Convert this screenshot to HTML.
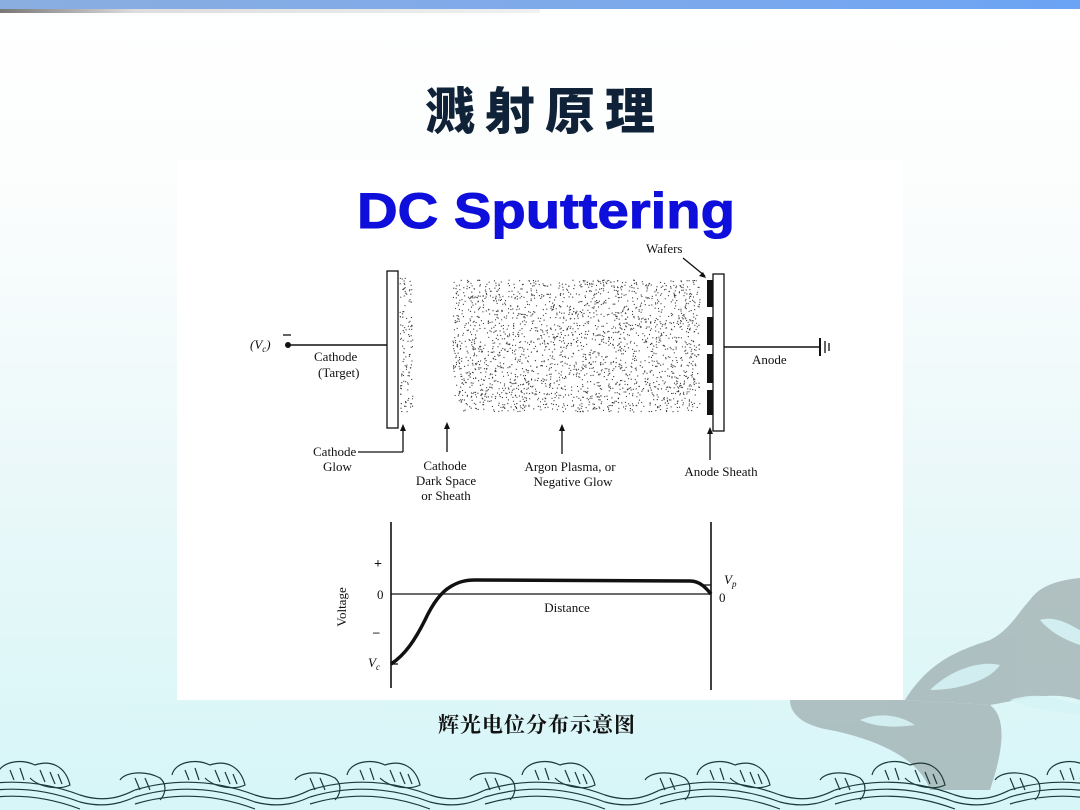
<!DOCTYPE html>
<html><head><meta charset="utf-8">
<style>
html,body{margin:0;padding:0}
body{width:1080px;height:810px;overflow:hidden;position:relative;
background:linear-gradient(to bottom,#ffffff 0%,#fbfdfd 25%,#eaf8f9 60%,#d6f6f8 100%);
font-family:"Liberation Serif",serif}
#top{position:absolute;left:0;top:0;width:1080px;height:9px;background:linear-gradient(to right,#8aaee0,#7aa8ee 70%,#6aa4f4)}
#top2{position:absolute;left:0;top:9px;width:540px;height:4px;background:linear-gradient(to right,#777,#ddd 25%,#f0f0f0)}
#title{position:absolute;left:0;width:1080px;top:72px;text-align:center;font:900 50px "Noto Sans CJK SC",sans-serif;color:#0f2238;letter-spacing:10px;text-indent:10px}
#cap{position:absolute;left:0;width:1074px;top:709px;text-align:center;font:bold 21px "Noto Serif CJK SC","Noto Sans CJK SC",serif;color:#111;letter-spacing:1px}
svg{position:absolute;left:0;top:0}
</style></head><body>
<div id="top"></div><div id="top2"></div>
<svg width="1080" height="810" id="bg">
 <g fill="#9aa8aa" opacity="0.7">
  <path d="M905 700 C930 660 960 650 990 640 C1010 630 1020 610 1030 600 C1040 585 1060 580 1080 578 L1080 700 C1050 690 1020 700 990 705 Z"/>
  <path d="M790 700 C830 690 870 700 905 700 L990 705 C1010 720 1000 760 990 790 L930 790 C920 760 880 740 830 730 C800 725 790 712 790 700Z"/>
 </g>
 <g fill="#d6f3f5" opacity="0.9">
  <path d="M930 690 C950 670 980 660 1000 665 C990 680 960 690 930 690Z"/>
  <path d="M1010 700 C1040 690 1060 700 1080 705 L1080 715 C1050 712 1030 708 1010 700Z"/>
  <path d="M860 720 C880 712 900 715 915 725 C895 728 875 727 860 720Z"/>
  <path d="M1040 620 C1055 615 1070 625 1080 630 L1080 645 C1065 640 1050 632 1040 620Z"/>
 </g>
 <g fill="none" stroke="#1d3a3a" stroke-width="1.2" id="waves"></g>
</svg>
<div id="title">溅射原理</div>
<svg width="1080" height="810">
 <rect x="177" y="160" width="726" height="540" fill="#fff"/>
 <text x="546" y="228" text-anchor="middle" font-family="Liberation Sans,sans-serif" font-weight="bold" font-size="50" fill="#0f0fdc" textLength="378" lengthAdjust="spacingAndGlyphs" stroke="#0f0fdc" stroke-width="1">DC Sputtering</text>
 <g id="dots" fill="#333"></g>
 <g stroke="#111" fill="none" stroke-width="1.3">
  <rect x="387" y="271" width="11" height="157" fill="#fff"/>
  <rect x="713" y="274" width="11" height="157" fill="#fff"/>
  <line x1="288" y1="345" x2="387" y2="345" stroke-width="1.6"/>
  <line x1="724" y1="347" x2="820" y2="347" stroke-width="1.6"/>
  <line x1="820" y1="338" x2="820" y2="356" stroke-width="2"/>
  <line x1="825" y1="341" x2="825" y2="353"/>
  <line x1="829" y1="343" x2="829" y2="351"/>
  <line x1="683" y1="258" x2="705" y2="276"/>
  <line x1="403" y1="452" x2="403" y2="428"/><line x1="358" y1="452" x2="403" y2="452"/>
  <line x1="447" y1="452" x2="447" y2="425"/>
  <line x1="562" y1="454" x2="562" y2="427"/>
  <line x1="710" y1="460" x2="710" y2="430"/>
  <line x1="391" y1="522" x2="391" y2="688" stroke-width="1.6"/>
  <line x1="711" y1="522" x2="711" y2="690" stroke-width="1.6"/>
  <line x1="391" y1="594" x2="711" y2="594"/>
  <line x1="391" y1="664" x2="398" y2="664"/>
  <line x1="704" y1="585" x2="711" y2="585"/>
  <path d="M391 664 C405 655 415 640 425 620 C432 605 440 593 450 587 C458 582 465 580 475 580 L690 581 C700 581 706 588 711 594" stroke-width="3.5"/>
 </g>
 <g fill="#111">
  <rect x="707" y="280" width="6" height="27"/><rect x="707" y="317" width="6" height="28"/>
  <rect x="707" y="354" width="6" height="29"/><rect x="707" y="390" width="6" height="25"/>
  <circle cx="288" cy="345" r="3"/>
  <polygon points="706,278 699,276 703,272"/>
  <polygon points="403,424 400,431 406,431"/><polygon points="447,422 444,429 450,429"/>
  <polygon points="562,424 559,431 565,431"/><polygon points="710,427 707,434 713,434"/>
 </g>
 <g font-family="Liberation Serif,serif" font-size="13" fill="#111">
  <text x="250" y="349" font-style="italic">(V<tspan font-size="9" dy="3">c</tspan><tspan dy="-3">)</tspan></text>
  <line x1="283" y1="335" x2="291" y2="335" stroke="#111" stroke-width="1.3"/>
  <text x="314" y="361">Cathode</text><text x="318" y="377">(Target)</text>
  <text x="646" y="253">Wafers</text>
  <text x="752" y="364">Anode</text>
  <text x="313" y="456">Cathode</text><text x="323" y="471">Glow</text>
  <text x="445" y="470" text-anchor="middle">Cathode</text>
  <text x="446" y="485" text-anchor="middle">Dark Space</text>
  <text x="446" y="500" text-anchor="middle">or Sheath</text>
  <text x="570" y="471" text-anchor="middle">Argon Plasma, or</text>
  <text x="573" y="486" text-anchor="middle">Negative Glow</text>
  <text x="721" y="476" text-anchor="middle">Anode Sheath</text>
  <text x="567" y="612" text-anchor="middle">Distance</text>
  <text x="346" y="607" text-anchor="middle" transform="rotate(-90 346 607)">Voltage</text>
  <text x="374" y="568" font-weight="bold" font-size="14">+</text>
  <text x="377" y="599">0</text>
  <text x="373" y="636" font-weight="bold">–</text>
  <text x="368" y="667" font-style="italic">V<tspan font-size="9" dy="3">c</tspan></text>
  <text x="724" y="584" font-style="italic">V<tspan font-size="9" dy="3">p</tspan></text>
  <text x="719" y="602">0</text>
 </g>
</svg>
<div id="cap">辉光电位分布示意图</div>
<script>
var s=12345;function r(){s=(s*1103515245+12345)%2147483648;return s/2147483648;}
var g=document.getElementById('dots'),h='';
function fill(x0,y0,w,hh,n){for(var i=0;i<n;i++){h+='<circle cx="'+(x0+r()*w).toFixed(1)+'" cy="'+(y0+r()*hh).toFixed(1)+'" r="0.6"/>';}}
fill(453,280,247,132,2300);fill(400,278,13,134,120);
g.innerHTML=h;
var w=document.getElementById('waves'),p='';
for(var x=-40;x<1100;x+=175){
 p+='<path d="M'+x+' 790 C'+(x+40)+' 778 '+(x+80)+' 780 '+(x+120)+' 795 C'+(x+150)+' 805 '+(x+170)+' 792 '+(x+175)+' 790"/>';
 p+='<path d="M'+x+' 797 C'+(x+40)+' 785 '+(x+80)+' 787 '+(x+120)+' 802 C'+(x+150)+' 810 '+(x+170)+' 799 '+(x+175)+' 797"/>';
 p+='<path d="M'+x+' 804 C'+(x+40)+' 792 '+(x+80)+' 794 '+(x+120)+' 809"/>';
 p+='<path d="M'+(x+37)+' 775 C'+(x+40)+' 762 '+(x+60)+' 758 '+(x+75)+' 765 C'+(x+90)+' 760 '+(x+105)+' 765 '+(x+110)+' 785 C'+(x+100)+' 790 '+(x+80)+' 788 '+(x+70)+' 778 M'+(x+50)+' 770 l4 10 M'+(x+60)+' 768 l4 12 M'+(x+80)+' 770 l5 12 M'+(x+90)+' 772 l5 12 M'+(x+98)+' 774 l4 10"/>';
 p+='<path d="M'+(x+160)+' 780 C'+(x+165)+' 772 '+(x+185)+' 770 '+(x+200)+' 778 C'+(x+208)+' 785 '+(x+205)+' 795 '+(x+200)+' 800 M'+(x+175)+' 778 l5 12 M'+(x+185)+' 778 l5 12"/>';
}
w.innerHTML=p;
</script>
</body></html>
